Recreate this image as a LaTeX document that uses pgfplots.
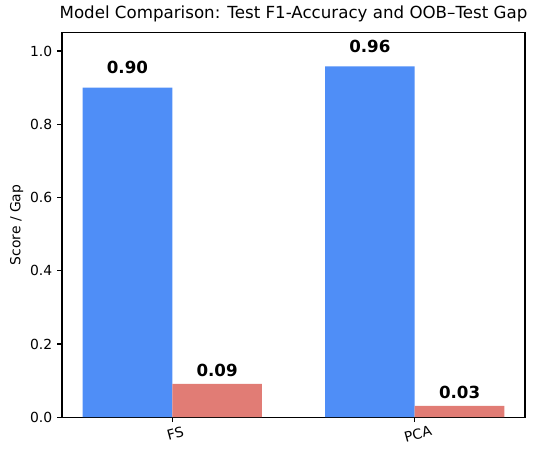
\documentclass[border=0pt]{standalone}
\usepackage{fontspec}
\setmainfont{DejaVu Sans}
\usepackage{pgfplots}
\pgfplotsset{compat=1.18}

\definecolor{fblue}{HTML}{4F8EF7}
\definecolor{gapred}{HTML}{E17C75}

\begin{document}
\begin{tikzpicture}
  \begin{axis}[
    scale only axis,
    width=333.4pt,
    height=276.9pt,
    xmin=-0.455, xmax=1.455,
    ymin=0, ymax=1.05,
    xtick={0,1},
    xticklabels={FS,PCA},
    xticklabel style={rotate=15, anchor=north, yshift=-1.5pt, font=\fontsize{10}{12}\selectfont},
    ytick={0,0.2,0.4,0.6,0.8,1.0},
    yticklabel style={font=\fontsize{10}{12}\selectfont,
      /pgf/number format/.cd, fixed, fixed zerofill, precision=1, assume math mode=true},
    tick align=outside,
    major tick length=3.5pt,
    tick style={black, line width=0.8pt},
    axis line style={line width=0.8pt},
    xtick pos=bottom, ytick pos=left,
    ylabel={Score / Gap},
    ylabel style={font=\fontsize{10}{12}\selectfont, yshift=-2pt},
    title={Model Comparison: Test F1-Accuracy and OOB–Test Gap},
    title style={font=\fontsize{12}{14}\selectfont, yshift=-2pt},
    ybar=0pt,
    bar width=0.37,
    nodes near coords,
    point meta=explicit symbolic,
  ]
    \coordinate (ll) at (rel axis cs:0,0);
    \coordinate (ur) at (rel axis cs:1,1);
    % Test F1-Accuracy
    \addplot[fill=fblue, draw=none, bar shift=-0.185,
      nodes near coords style={font=\fontsize{12}{14}\selectfont\bfseries, anchor=base, yshift=9.9pt}]
      coordinates {(0,0.900)[0.90] (1,0.958)[0.96]};
    % OOB-Test Gap
    \addplot[fill=gapred, draw=none, bar shift=0.185,
      nodes near coords style={font=\fontsize{12}{14}\selectfont\bfseries, anchor=base, yshift=5.4pt}]
      coordinates {(0,0.091)[0.09] (1,0.031)[0.03]};
  \end{axis}
  \pgfresetboundingbox
  \useasboundingbox ([shift={(-44.6pt,-28.6pt)}]ll) rectangle ([shift={(7.9pt,23.5pt)}]ur);
\end{tikzpicture}
\end{document}
